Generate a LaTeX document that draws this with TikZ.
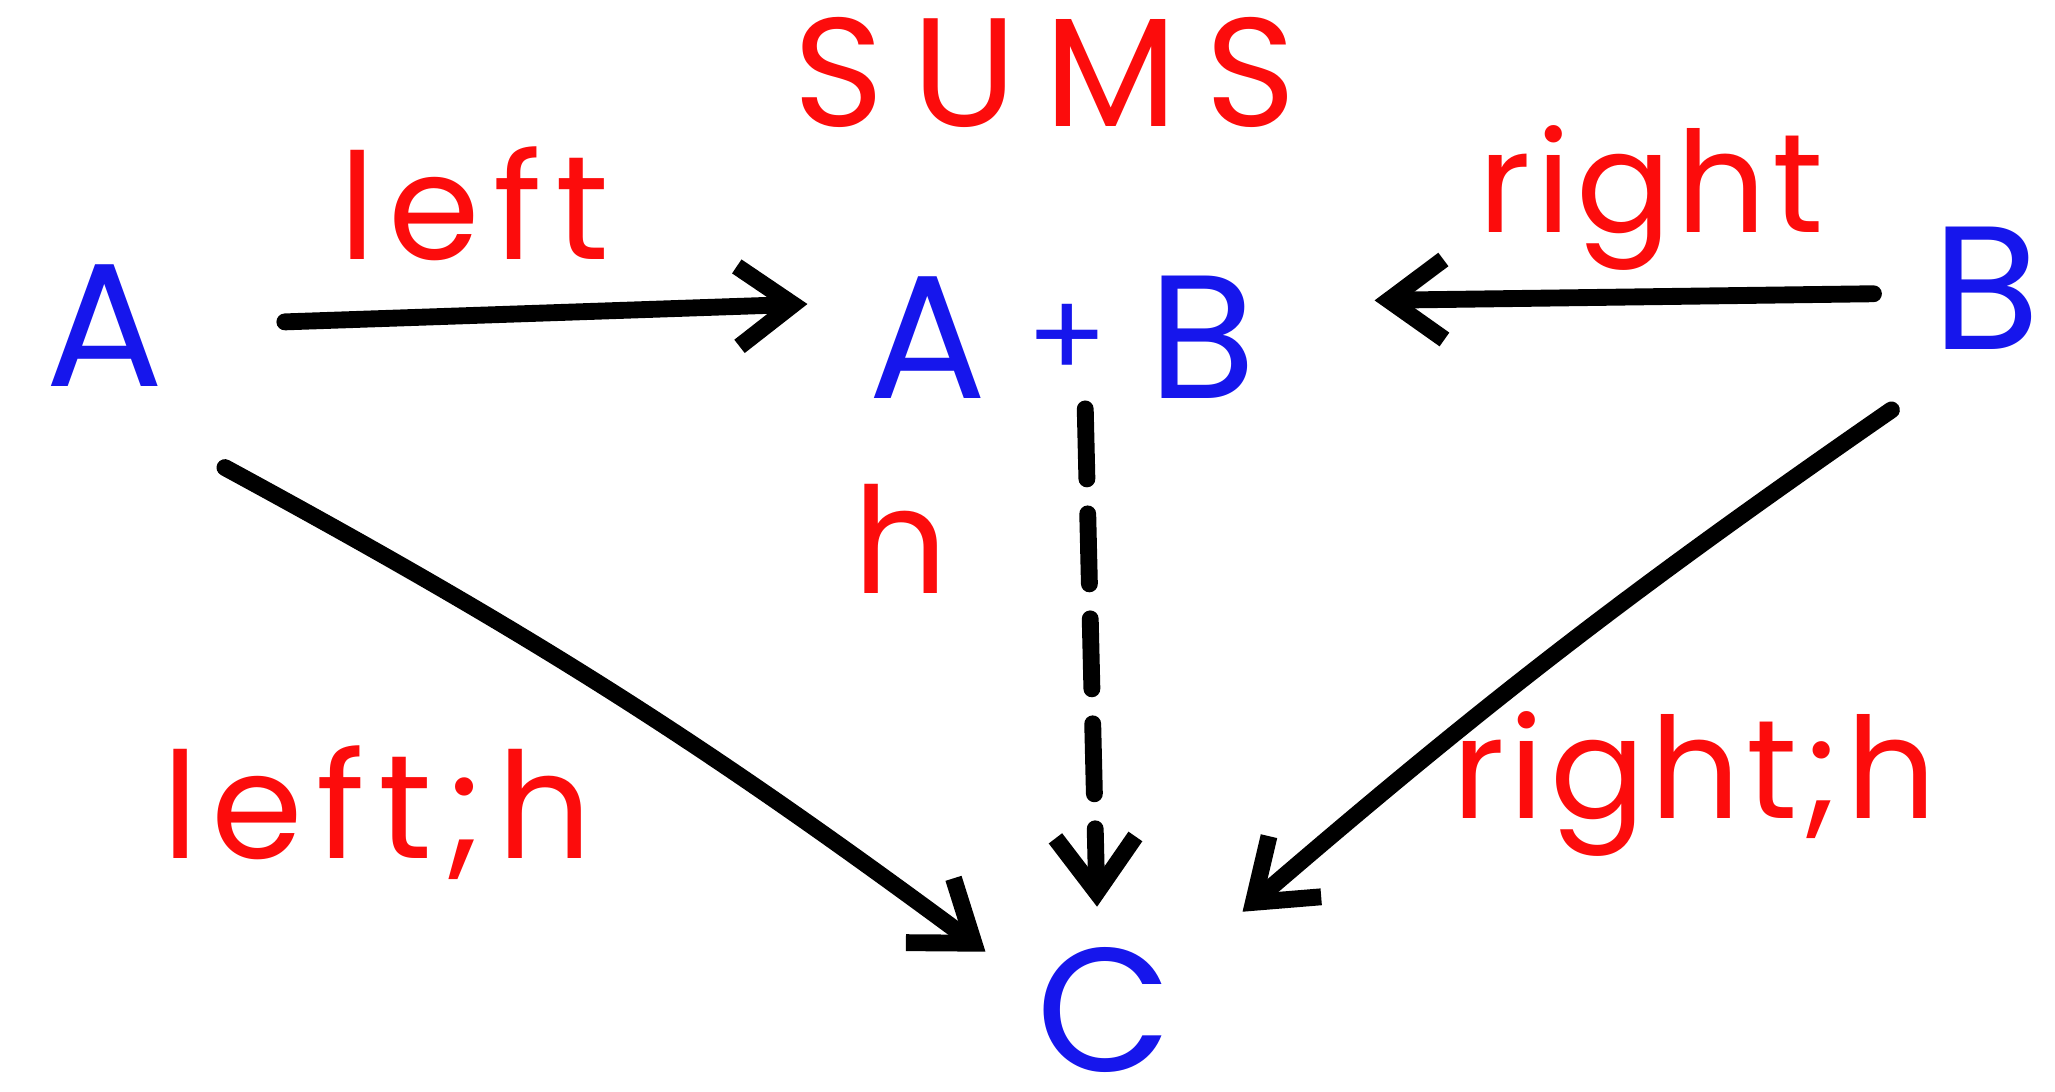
\documentclass[tikz,border=0pt]{standalone}
\usepackage{fontspec}
\setmainfont{Poppins}
\usetikzlibrary{arrows.meta}
\definecolor{inkred}{RGB}{252,12,12}
\definecolor{inkblue}{RGB}{22,22,236}

\begin{document}
\begin{tikzpicture}[
  obj/.style={text=inkblue,inner sep=0pt,font=\fontsize{50}{54}\selectfont\addfontfeature{LetterSpace=12}},
  lbl/.style={text=inkred,inner sep=0pt,anchor=base,font=\fontsize{42}{46}\selectfont\addfontfeature{LetterSpace=9}},
  mor/.style={line width=4.8pt,line cap=round,line join=round,-{Straight Barb[length=5.5mm,width=8mm]}}]
  \useasboundingbox (0,0) rectangle (20.55,10.92);
  % ---------- objects
  \node[text=inkred,inner sep=0pt,font=\fontsize{44}{48}\selectfont\addfontfeature{LetterSpace=18}] (sums) at (10.45,10.20) {SUMS};
  \node[obj] (a) at (1.05,7.66) {A};
  \node[obj] (ab) at (10.62,7.55) {A\hspace{4mm}\raisebox{2mm}{\fontsize{34}{38}\selectfont+}\hspace{4mm}B};
  \node[obj] (b) at (19.86,8.04) {B};
  \node[obj] (c) at (11.04,0.82) {C};
  % ---------- labels
  \node[lbl] (left) at (4.74,8.32) {left};
  \node[lbl,font=\fontsize{40}{44}\selectfont\addfontfeature{LetterSpace=4}] (right) at (16.51,8.59) {right};
  \node[lbl] (h) at (9.01,4.98) {h};
  \node[lbl] (lefth) at (3.77,2.33) {left;h};
  \node[lbl,font=\fontsize{40}{44}\selectfont\addfontfeature{LetterSpace=4}] (righth) at (16.94,2.73) {right;h};
  % ---------- arrows
  \draw[mor,shorten <=12mm,shorten >=6mm] (a.east) -- ([yshift=3.5mm]ab.west);
  \draw[mor,shorten <=5.8mm,shorten >=11.8mm] ([yshift=-0.5mm]b.west) -- ([yshift=3.5mm]ab.east);
  \draw[mor,dash pattern=on 7mm off 3.5mm,shorten <=1mm,shorten >=4mm] ([xshift=2.3mm]ab.south) -- ([xshift=-0.6mm]c.north);
  \draw[mor] ([shift={(6mm,-8mm)}]a.south east) to[bend left=4] ([shift={(-5mm,-0.5mm)}]c.north west);
  \draw[mor] ([shift={(-4mm,-6mm)}]b.south west) to[bend right=3] ([shift={(7mm,3.5mm)}]c.north east);
\end{tikzpicture}
\end{document}
